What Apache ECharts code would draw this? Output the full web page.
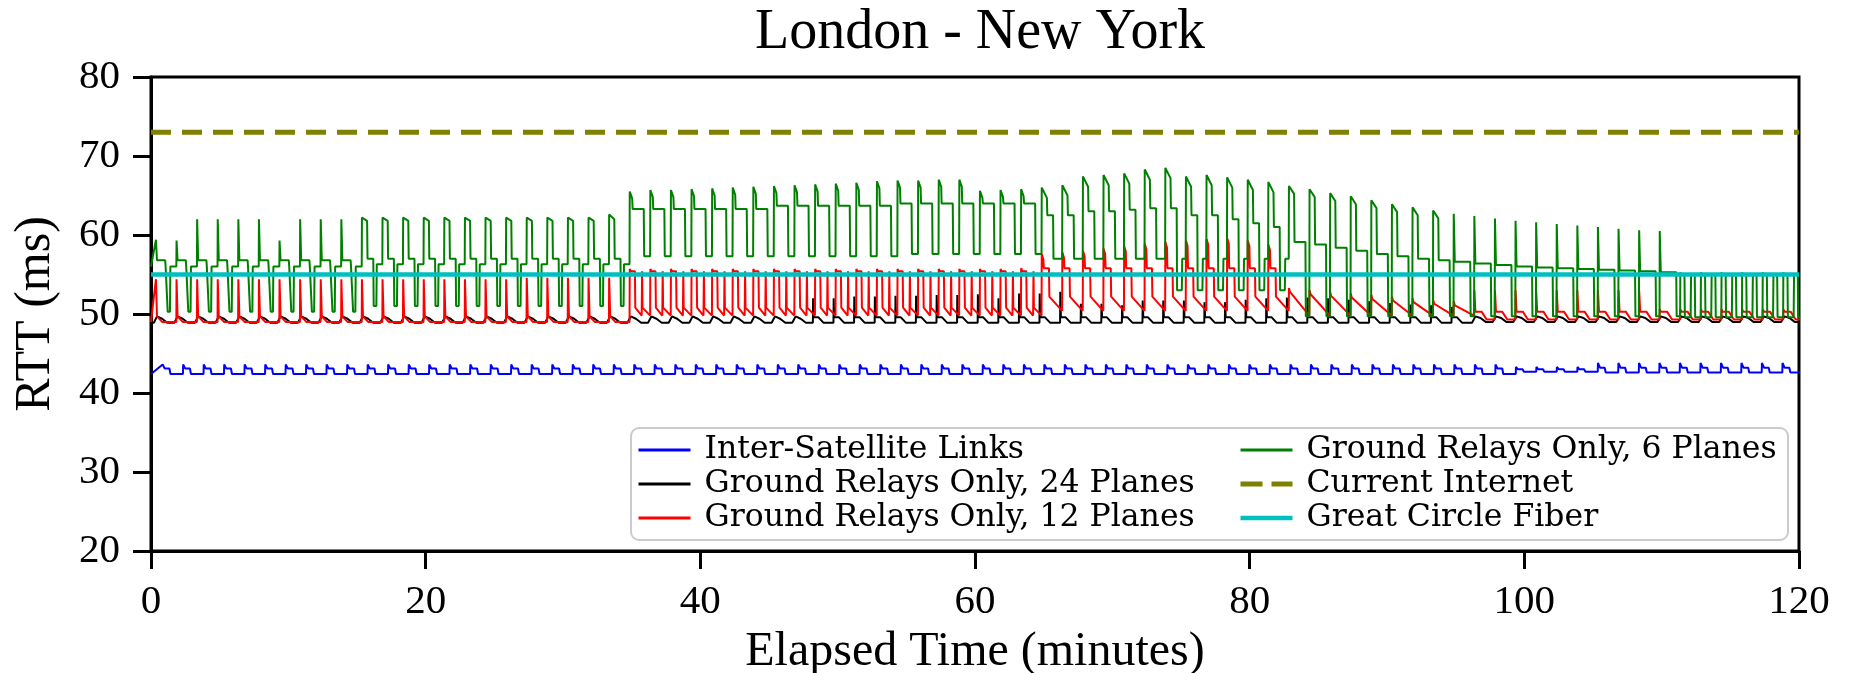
<!DOCTYPE html>
<html>
<head>
<meta charset="utf-8">
<title>London - New York RTT</title>
<script src="https://cdn.jsdelivr.net/npm/echarts@6.0.0/dist/echarts.min.js"></script>
<style>
  html, body { margin: 0; padding: 0; background: #ffffff; }
  #chart { width: 1850px; height: 673px; }
</style>
</head>
<body>
<div id="chart"></div>
<script>
// Expand run-length lists: a plain number is one value, [value, count] repeats it.
function runs() {
  const out = [];
  for (const item of arguments) {
    if (Array.isArray(item)) { for (let k = 0; k < item[1]; k++) out.push(item[0]); }
    else out.push(item);
  }
  return out;
}

// ---------- data (minutes, milliseconds) ----------
const xTicks = [0, 20, 40, 60, 80, 100, 120];
const yTicks = [20, 30, 40, 50, 60, 70, 80];

const seriesNames = [
  'Inter-Satellite Links',
  'Ground Relays Only, 24 Planes',
  'Ground Relays Only, 12 Planes',
  'Ground Relays Only, 6 Planes',
  'Current Internet',
  'Great Circle Fiber'
];

// Constant references
const internetRTT = 73.0;
const fiberRTT = 55.0;

// Start of each satellite hand-over cycle (12 and 6 plane ground-relay paths)
const relayTimes = [
  0.36, 1.86, 3.36, 4.86, 6.36, 7.86, 9.36, 10.86, 12.36, 13.86,
  15.36, 16.86, 18.36, 19.86, 21.36, 22.86, 24.36, 25.86, 27.36, 28.86,
  30.36, 31.86, 33.36, 34.86, 36.36, 37.86, 39.36, 40.86, 42.36, 43.86,
  45.36, 46.86, 48.36, 49.86, 51.36, 52.86, 54.36, 55.86, 57.36, 58.86,
  60.36, 61.86, 63.36, 64.86, 66.36, 67.86, 69.36, 70.86, 72.36, 73.86,
  75.36, 76.86, 78.36, 79.86, 81.36, 82.86, 84.36, 85.86, 87.36, 88.86,
  90.36, 91.86, 93.36, 94.86, 96.36, 97.86, 99.36, 100.86, 102.36, 103.86,
  105.36, 106.86, 108.36, 109.86, 111.36, 112.86, 114.36, 115.86, 117.36, 118.86
];

// Start of each cycle on the 24 plane ground-relay path
const black24Times = [
  0.21, 1.71, 3.21, 4.71, 6.21, 7.71, 9.21, 10.71, 12.21, 13.71,
  15.21, 16.71, 18.21, 19.71, 21.21, 22.71, 24.21, 25.71, 27.21, 28.71,
  30.21, 31.71, 33.21, 34.71, 36.21, 37.71, 39.21, 40.71, 42.21, 43.71,
  45.21, 46.71, 48.21, 49.71, 51.21, 52.71, 54.21, 55.71, 57.21, 58.71,
  60.21, 61.71, 63.21, 64.71, 66.21, 67.71, 69.21, 70.71, 72.21, 73.71,
  75.21, 76.71, 78.21, 79.71, 81.21, 82.71, 84.21, 85.71, 87.21, 88.71,
  90.21, 91.71, 93.21, 94.71, 96.21, 97.71, 99.21, 100.71, 102.21, 103.71,
  105.21, 106.71, 108.21, 109.71, 111.21, 112.71, 114.21, 115.71, 117.21, 118.71
];

// Start of each cycle on the inter-satellite-link path
const islTimes = [
  0.85, 2.34, 3.84, 5.33, 6.82, 8.32, 9.81, 11.30, 12.79, 14.29,
  15.78, 17.27, 18.77, 20.26, 21.75, 23.25, 24.74, 26.23, 27.72, 29.22,
  30.71, 32.20, 33.70, 35.19, 36.68, 38.18, 39.67, 41.16, 42.65, 44.15,
  45.64, 47.13, 48.63, 50.12, 51.61, 53.11, 54.60, 56.09, 57.58, 59.08,
  60.57, 62.06, 63.56, 65.05, 66.54, 68.04, 69.53, 71.02, 72.51, 74.01,
  75.50, 76.99, 78.49, 79.98, 81.47, 82.97, 84.46, 85.95, 87.44, 88.94,
  90.43, 91.92, 93.42, 94.91, 96.40, 97.90, 99.39, 100.88, 102.37, 103.87,
  105.36, 106.85, 108.35, 109.84, 111.33, 112.83, 114.32, 115.81, 117.30, 118.80
];

// Inter-Satellite Links: RTT levels per cycle
const islStart = 42.4;
const islHi  = runs([43.6, 66], [43.3, 4], [43.8, 10]);
const islTop = runs([43.1, 66], [43.0, 4], [43.2, 10]);
const islLo  = runs([42.4, 66], [42.7, 4], [42.6, 10]);

// Ground relays, 24 planes
const black24Start = 48.9;
const black24Hi = runs([49.7, 32],
  52.0, 52.0, 52.2, 52.2, 52.3, 52.3, 52.4, 52.4, 52.5,
  52.0, 52.6, 52.6, 52.8, 51.3, 51.3, 51.1, 51.7, 51.7, 51.7, 51.5, 51.5, 51.8, 52.0, 52.1,
  52.1, 52.0, 51.8, 51.6, 51.4, 51.2, 51.1, 50.9,
  [49.7, 16]);
const black24Mid = runs([49.4, 32], [49.6, 32], [49.5, 16]);
const black24Lo  = runs([48.9, 64], [49.0, 16]);

// Ground relays, 12 planes
const red12Start = 49.0;
const red12Hi = runs([54.4, 18], [54.6, 5], [55.7, 19], 55.8,
  57.6, 57.8, 58.0, 58.3, 58.6, 58.9, 59.1, 59.3, 59.5, 59.6, 59.3, 58.8,
  53.3, 53.0, 52.8, 52.6, 52.4, 52.2, 52.0, 51.8, 51.6,
  [53.0, 9], [50.6, 7]);
const red12Top = runs([null, 23], [55.4, 20],
  56.9, 57.1, 57.3, 57.6, 57.9, 58.2, 58.4, 58.6, 58.8, 58.9, 58.6, 58.1,
  [null, 25]);
const red12Mid = runs([49.7, 23], [50.8, 20], [55.8, 12],
  52.8, 52.5, 52.3, 52.1, 51.9, 51.7, 51.5, 51.3, 51.1,
  [50.3, 16]);
const red12Lo  = runs([49.0, 23], [49.8, 20], [52.2, 12], [49.8, 9], [49.3, 16]);
const red12End = runs([null, 43], [50.4, 12], [null, 25]);

// Ground relays, 6 planes
const green6Start = 56.0;
const green6Hi = [
  59.4, 59.3, 62.0, 62.0, 62.0, 62.0, 59.3, 62.0, 62.0, 62.0,
  62.2, 62.2, 62.2, 62.2, 62.2, 62.2, 62.2, 62.2, 62.2, 62.2,
  62.2, 62.2, 62.6, 65.5, 65.7, 65.7, 65.8, 65.9, 66.0, 66.1,
  66.2, 66.3, 66.4, 66.5, 66.6, 66.8, 66.9, 66.9, 67.0, 67.0,
  65.6, 65.7, 65.8, 66.0, 66.3, 67.4, 67.6, 67.8, 68.3, 68.5,
  67.4, 67.6, 67.3, 67.0, 66.7, 66.2, 65.8, 65.3, 64.9, 64.4,
  63.9, 63.5, 63.1, 62.7, 62.4, 62.1, 61.8, 61.6, 61.4, 61.2,
  61.0, 60.8, 60.6, 60.5, 55.3, 55.3, 55.3, 55.3, 55.3, 55.3
];
const green6Top = [
  59.4, 59.3, 62.0, 62.0, 62.0, 62.0, 59.3, 62.0, 62.0, 62.0,
  61.8, 61.8, 61.8, 61.8, 61.8, 61.8, 61.8, 61.8, 61.8, 61.8,
  61.8, 61.8, 62.0, 64.6, 64.8, 64.8, 64.9, 65.0, 65.1, 65.2,
  65.3, 65.4, 65.5, 65.6, 65.7, 65.9, 66.0, 66.0, 66.1, 66.1,
  64.7, 64.8, 64.9, 64.7, 65.0, 66.1, 66.3, 66.5, 67.0, 67.2,
  66.1, 66.3, 66.0, 65.7, 65.4, 65.2, 64.8, 64.3, 63.9, 63.4,
  62.9, 62.5, 62.1, 62.7, 62.4, 62.1, 61.8, 61.6, 61.4, 61.2,
  61.0, 60.8, 60.6, 60.5, 55.3, 55.3, 55.3, 55.3, 55.3, 55.3
];
const green6Mid = runs([56.8, 10], [57.0, 13], [63.3, 7], [63.7, 6], [64.0, 7],
  62.5, 62.5, 63.0, 63.0, 63.2, 63.4, 63.4, 62.5, 62.5, 62.0, 61.5, 61.0,
  59.1, 58.8, 58.4, 58.0, 57.6, 57.3, 57.0, 56.8, 56.6, 56.4,
  56.2, 56.0, 55.9, 55.8, 55.7, 55.6, 55.5, 55.4, 55.3,
  [55.0, 6]);
const green6Lo  = runs([50.3, 10], [51.0, 13], [57.3, 13], [57.6, 7], [57.0, 6], [53.0, 6], [49.7, 19], [49.6, 6]);
const green6End = runs([56.0, 10], [56.3, 13], [57.3, 13], [57.6, 7], [57.0, 12], [49.7, 19], [49.6, 6]);

// ---------- cycle profiles: [fraction of cycle, level] ----------
const islProfile = [
  { first: 0, last: 79, pts: [[0, 'hi'], [0.1, 'top'], [0.33, 'top'], [0.38, 'lo'], [0.99, 'lo']] }
];
const black24Profile = [
  { first: 0,  last: 31, pts: [[0, 'lo'], [0.15, 'hi'], [0.4, 'mid'], [0.65, 'lo'], [0.99, 'lo']] },
  { first: 32, last: 63, pts: [[0, 'hi'], [0.03, 'mid'], [0.25, 'mid'], [0.5, 'lo'], [0.99, 'lo']] },
  { first: 64, last: 79, pts: [[0, 'lo'], [0.15, 'hi'], [0.4, 'mid'], [0.65, 'lo'], [0.99, 'lo']] }
];
const red12Profile = [
  { first: 0,  last: 22, pts: [[0, 'hi'], [0.03, 'hi'], [0.05, 'mid'], [0.3, 'lo'], [0.99, 'lo']] },
  { first: 23, last: 42, pts: [[0, 'hi'], [0.06, 'top'], [0.25, 'top'], [0.27, 'mid'], [0.58, 'lo'], [0.6, 'top'], [0.62, 'mid'], [0.99, 'lo']] },
  { first: 43, last: 54, pts: [[0, 'hi'], [0.08, 'top'], [0.1, 'mid'], [0.35, 'mid'], [0.37, 'lo'], [0.99, 'end']] },
  { first: 55, last: 63, pts: [[0, 'hi'], [0.05, 'mid'], [0.99, 'lo']] },
  { first: 64, last: 79, pts: [[0, 'hi'], [0.03, 'hi'], [0.05, 'mid'], [0.35, 'mid'], [0.6, 'lo'], [0.99, 'lo']] }
];
const green6Profile = [
  { first: 0,  last: 9,  pts: [[0, 'hi'], [0.03, 'top'], [0.05, 'mid'], [0.45, 'mid'], [0.47, 'end'], [0.55, 'end'], [0.57, 'lo'], [0.68, 'lo'], [0.7, 'end'], [0.99, 'end']] },
  { first: 10, last: 22, pts: [[0, 'hi'], [0.25, 'top'], [0.27, 'mid'], [0.55, 'mid'], [0.57, 'lo'], [0.7, 'lo'], [0.72, 'end'], [0.99, 'end']] },
  { first: 23, last: 42, pts: [[0, 'hi'], [0.12, 'top'], [0.14, 'mid'], [0.68, 'mid'], [0.7, 'lo'], [0.99, 'lo']] },
  { first: 43, last: 54, pts: [[0, 'hi'], [0.25, 'top'], [0.27, 'mid'], [0.55, 'mid'], [0.57, 'lo'], [0.8, 'lo'], [0.82, 'end'], [0.99, 'end']] },
  { first: 55, last: 62, pts: [[0, 'hi'], [0.25, 'top'], [0.27, 'mid'], [0.8, 'mid'], [0.82, 'lo'], [0.99, 'lo']] },
  { first: 63, last: 73, pts: [[0, 'hi'], [0.03, 'top'], [0.05, 'mid'], [0.8, 'mid'], [0.82, 'lo'], [0.99, 'lo']] },
  { first: 74, last: 79, pts: [[0, 'hi'], [0.03, 'mid'], [0.2, 'mid'], [0.22, 'lo'], [0.5, 'lo'], [0.52, 'mid'], [0.7, 'mid'], [0.72, 'lo'], [0.99, 'lo']] }
];

// Turn the per-cycle levels into [minute, RTT] vertices.
function buildPath(start, times, levels, profile) {
  const pts = [[0, start]];
  for (const part of profile) {
    for (let i = part.first; i <= part.last; i++) {
      const t = times[i];
      const next = i + 1 < times.length ? times[i + 1] : t + (t - times[i - 1]);
      const span = next - t;
      for (const [f, key] of part.pts) {
        pts.push([+(t + f * span).toFixed(3), levels[key][i]]);
      }
    }
  }
  return pts;
}

const islPath = buildPath(islStart, islTimes, { hi: islHi, top: islTop, lo: islLo }, islProfile);
const black24Path = buildPath(black24Start, black24Times, { hi: black24Hi, mid: black24Mid, lo: black24Lo }, black24Profile);
const red12Path = buildPath(red12Start, relayTimes, { hi: red12Hi, top: red12Top, mid: red12Mid, lo: red12Lo, end: red12End }, red12Profile);
const green6Path = buildPath(green6Start, relayTimes, { hi: green6Hi, top: green6Top, mid: green6Mid, lo: green6Lo, end: green6End }, green6Profile);

// ---------- chart ----------
const serif = 'Liberation Serif';
const seriesColors = ['#0000ff', '#000000', '#ff0000', '#008000', '#808000', '#00bfbf'];
const chart = echarts.init(document.getElementById('chart'), null, { renderer: 'canvas' });

function lineSeries(idx, data, width, type) {
  return {
    name: seriesNames[idx],
    type: 'line',
    data: data,
    symbol: 'none',
    showSymbol: false,
    silent: true,
    clip: true,
    lineStyle: { color: seriesColors[idx], width: width, type: type || 'solid' },
    itemStyle: { color: seriesColors[idx] }
  };
}

// Legend swatches: plain line samples (dashed for the Current Internet entry)
function legendEntry(idx, width, type) {
  return {
    name: seriesNames[idx],
    itemStyle: { opacity: 0, color: 'transparent', borderWidth: 0 },
    lineStyle: { color: seriesColors[idx], width: width, type: type || 'solid', opacity: 1 }
  };
}

const legendText = { fontFamily: 'DejaVu Serif', fontSize: 31.5, color: '#000000', lineHeight: 34, padding: [0, 0, 0, 9] };
const legendBase = {
  orient: 'vertical', top: 433, padding: 0,
  itemWidth: 52, itemHeight: 20, itemGap: 0,
  selectedMode: false, z: 6,
  itemStyle: { opacity: 0 },
  textStyle: legendText
};

chart.setOption({
  animation: false,
  backgroundColor: '#ffffff',
  title: {
    text: 'London - New York',
    left: 975,
    top: 0,
    textAlign: 'center',
    textStyle: { fontFamily: serif, fontSize: 56, fontWeight: 'normal', color: '#000000' }
  },
  grid: {
    left: 151, right: 51, top: 77, bottom: 122,
    show: true, borderColor: '#000000', borderWidth: 3, backgroundColor: 'transparent',
    containLabel: false,
    outerBoundsMode: 'none'
  },
  xAxis: {
    type: 'value',
    min: xTicks[0], max: xTicks[xTicks.length - 1], interval: 20,
    name: 'Elapsed Time (minutes)',
    nameLocation: 'middle',
    nameGap: 66,
    nameTextStyle: { fontFamily: serif, fontSize: 48, color: '#000000' },
    axisLine: { show: true, lineStyle: { color: '#000000', width: 3 } },
    axisTick: { show: true, length: 18, inside: false, lineStyle: { color: '#000000', width: 3 } },
    axisLabel: { fontFamily: serif, fontSize: 41, color: '#000000', margin: 31 },
    splitLine: { show: false }
  },
  yAxis: {
    type: 'value',
    min: yTicks[0], max: yTicks[yTicks.length - 1], interval: 10,
    name: 'RTT (ms)',
    nameLocation: 'middle',
    nameGap: 90,
    nameTextStyle: { fontFamily: serif, fontSize: 50, color: '#000000' },
    axisLine: { show: true, lineStyle: { color: '#000000', width: 3 } },
    axisTick: { show: true, length: 18, inside: false, lineStyle: { color: '#000000', width: 3 } },
    axisLabel: { fontFamily: serif, fontSize: 41, color: '#000000', margin: 31 },
    splitLine: { show: false }
  },
  legend: [
    Object.assign({}, legendBase, {
      left: 637,
      data: [legendEntry(0, 3), legendEntry(1, 3), legendEntry(2, 3)]
    }),
    Object.assign({}, legendBase, {
      left: 1238,
      data: [legendEntry(3, 3), legendEntry(4, 5, [22, 9]), legendEntry(5, 4.5)]
    })
  ],
  graphic: [
    {
      type: 'rect', z: 5,
      shape: { x: 631, y: 428, width: 1157, height: 112, r: 8 },
      style: { fill: 'rgba(255,255,255,0.85)', stroke: '#cccccc', lineWidth: 2 }
    }
  ],
  series: [
    lineSeries(0, islPath, 2),
    lineSeries(1, black24Path, 2),
    lineSeries(2, red12Path, 2),
    lineSeries(3, green6Path, 2),
    lineSeries(4, [[xTicks[0], internetRTT], [xTicks[xTicks.length - 1], internetRTT]], 5, [20, 11]),
    lineSeries(5, [[xTicks[0], fiberRTT], [xTicks[xTicks.length - 1], fiberRTT]], 4.5)
  ]
});
</script>
</body>
</html>
